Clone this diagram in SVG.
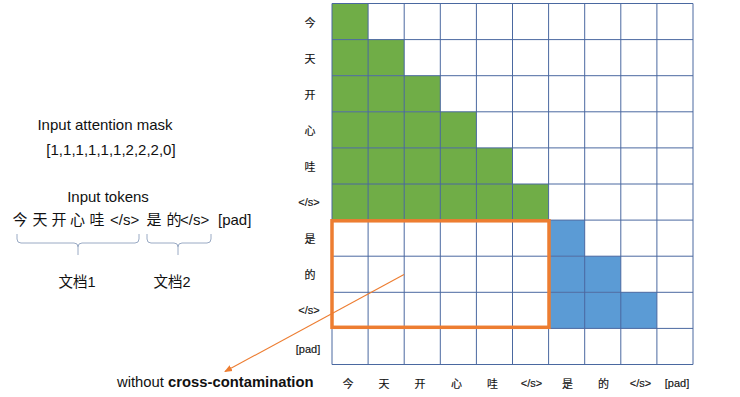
<svg xmlns="http://www.w3.org/2000/svg" width="740" height="397" viewBox="0 0 740 397">
<style>
text{font-family:"Liberation Sans","Noto Sans CJK SC",sans-serif;fill:#111}
.cjk{font-family:"Noto Sans CJK SC",sans-serif}
.lbl{font-size:11px;text-anchor:middle;dominant-baseline:central;stroke:#111;stroke-width:0.15}
.g{fill:#70AD47}
.b{fill:#5B9BD5}
.grid{stroke:#4A68A0;stroke-width:1;fill:none}
.brace{stroke:#9AAAC4;stroke-width:1;fill:none}
</style>
<defs>
<marker id="ah" markerWidth="8" markerHeight="8" refX="7" refY="4" orient="auto" markerUnits="userSpaceOnUse">
<path d="M0,0.8 L8,4 L0,7.2 Z" fill="#ED7D31"/>
</marker>
</defs>
<rect width="740" height="397" fill="#fff"/>
<g id="matrix">
<g id="cells-green">
<rect class="g" x="332" y="3.5" width="36.1" height="36.1"/>
<rect class="g" x="332" y="39.6" width="72.2" height="36.1"/>
<rect class="g" x="332" y="75.7" width="108.3" height="36.1"/>
<rect class="g" x="332" y="111.8" width="144.4" height="36.1"/>
<rect class="g" x="332" y="147.9" width="180.5" height="36.1"/>
<rect class="g" x="332" y="184" width="216.6" height="36.1"/>
</g>
<g id="cells-blue">
<rect class="b" x="548.6" y="220.1" width="36.1" height="36.1"/>
<rect class="b" x="548.6" y="256.2" width="72.2" height="36.1"/>
<rect class="b" x="548.6" y="292.3" width="108.3" height="36.1"/>
</g>
<path class="grid" d="M332,3.5V364.5M368.1,3.5V364.5M404.2,3.5V364.5M440.3,3.5V364.5M476.4,3.5V364.5M512.5,3.5V364.5M548.6,3.5V364.5M584.7,3.5V364.5M620.8,3.5V364.5M656.9,3.5V364.5M693,3.5V364.5
M332,3.5H693M332,39.6H693M332,75.7H693M332,111.8H693M332,147.9H693M332,184H693M332,220.1H693M332,256.2H693M332,292.3H693M332,328.4H693M332,364.5H693"/>
</g>
<g id="row-labels">
<text class="lbl cjk" x="310" y="21.5">今</text>
<text class="lbl cjk" x="310" y="57.6">天</text>
<text class="lbl cjk" x="310" y="93.7">开</text>
<text class="lbl cjk" x="310" y="129.8">心</text>
<text class="lbl cjk" x="310" y="165.9">哇</text>
<text class="lbl" x="309" y="202">&lt;/s&gt;</text>
<text class="lbl cjk" x="310" y="238.1">是</text>
<text class="lbl cjk" x="310" y="274.2">的</text>
<text class="lbl" x="309" y="310.3">&lt;/s&gt;</text>
<text class="lbl" x="308" y="348.5">[pad]</text>
</g>
<g id="col-labels">
<text class="lbl cjk" x="348" y="382.5">今</text>
<text class="lbl cjk" x="384" y="382.5">天</text>
<text class="lbl cjk" x="420" y="382.5">开</text>
<text class="lbl cjk" x="456.5" y="382.5">心</text>
<text class="lbl cjk" x="492.5" y="382.5">哇</text>
<text class="lbl" x="531.5" y="382.5">&lt;/s&gt;</text>
<text class="lbl cjk" x="567.5" y="382.5">是</text>
<text class="lbl cjk" x="603.5" y="382.5">的</text>
<text class="lbl" x="640.5" y="382.5">&lt;/s&gt;</text>
<text class="lbl" x="677" y="382.5">[pad]</text>
</g>
<g id="highlight-box">
<rect x="332" y="220.8" width="217" height="106.5" fill="none" stroke="#ED7D31" stroke-width="3.5"/>
</g>
<g id="mask-title">
<text x="105" y="130" font-size="15" text-anchor="middle">Input attention mask</text>
<text x="111" y="155" font-size="15" text-anchor="middle">[1,1,1,1,1,1,2,2,2,0]</text>
</g>
<g id="tokens">
<text x="108" y="201.5" font-size="15" text-anchor="middle">Input tokens</text>
<text y="225" font-size="15"><tspan x="12.5">今</tspan><tspan x="32.5">天</tspan><tspan x="51.5">开</tspan><tspan x="70">心</tspan><tspan x="89.5">哇</tspan><tspan x="110">&lt;/s&gt;</tspan><tspan x="146.5">是</tspan><tspan x="166.5">的</tspan><tspan x="180">&lt;/s&gt;</tspan><tspan x="218">[pad]</tspan></text>
</g>
<g id="doc1">
<path class="brace" d="M17,234V239Q17,243 21,243H74Q78,243 78,247V255M78,247Q78,243 82,243H135Q139,243 139,239V234"/>
<text x="77" y="287" font-size="14.5" text-anchor="middle">文档1</text>
</g>
<g id="doc2">
<path class="brace" d="M147,234V239Q147,243 151,243H174Q178,243 178,247V255M178,247Q178,243 182,243H207Q211,243 211,239V234"/>
<text x="172" y="287" font-size="14.5" text-anchor="middle">文档2</text>
</g>
<g id="caption">
<text x="117" y="386.5" font-size="14.8">without <tspan font-weight="bold">cross-contamination</tspan></text>
</g>
<g id="connectors">
<line x1="404" y1="274.5" x2="225" y2="371.5" stroke="#ED7D31" stroke-width="1.1" marker-end="url(#ah)"/>
</g>
</svg>
